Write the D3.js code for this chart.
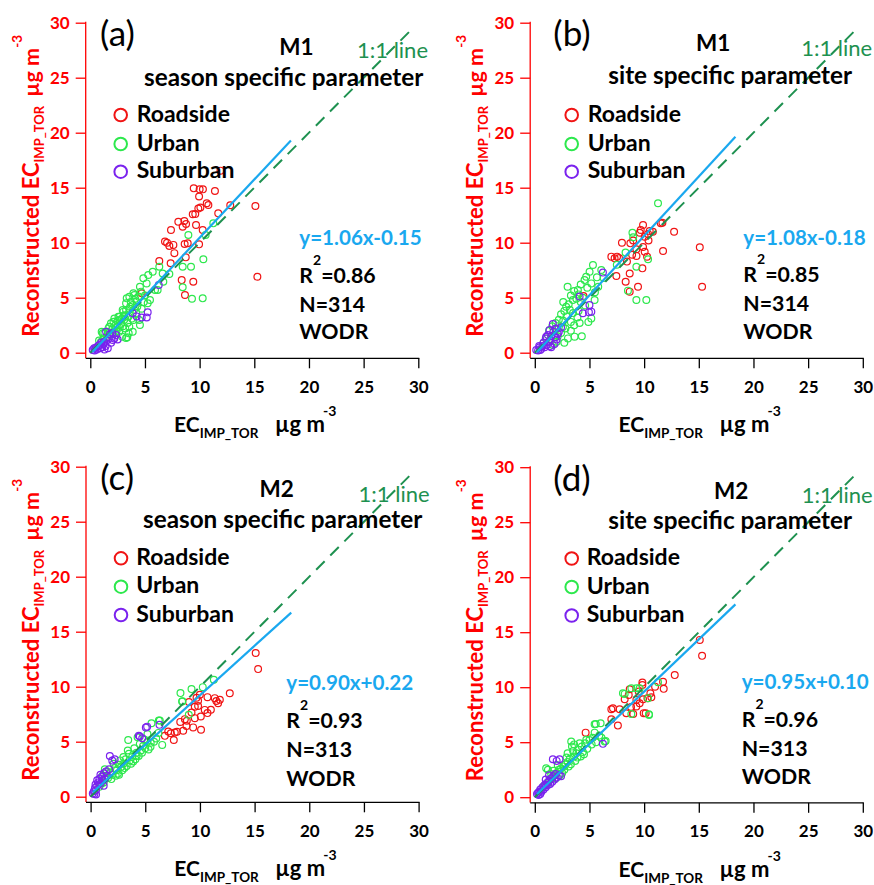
<!DOCTYPE html>
<html><head><meta charset="utf-8">
<script src="https://cdn.jsdelivr.net/npm/d3@7"></script>
<style>
body{margin:0;background:#fff}
svg{display:block}
text{font-family:Lato,"Open Sans",sans-serif}
</style>
</head><body>
<svg id="chart" width="874" height="885"></svg>
<script>
// ---------------- data ----------------
const siteNames = ["Roadside", "Urban", "Suburban"];
const panelTags = ["(a)", "(b)", "(c)", "(d)"];
const methodNames = ["M1", "M1", "M2", "M2"];
const paramNames = ["season specific parameter", "site specific parameter", "season specific parameter", "site specific parameter"];
const fitSlopes = [1.06, 1.08, 0.90, 0.95];
const fitIntercepts = [-0.15, -0.18, 0.22, 0.10];
const fitLabels = ["y=1.06x-0.15", "y=1.08x-0.18", "y=0.90x+0.22", "y=0.95x+0.10"];
const r2Labels = ["=0.86", "=0.85", "=0.93", "=0.96"];
const nLabels = ["N=314", "N=314", "N=313", "N=313"];
const fitNames = ["WODR", "WODR", "WODR", "WODR"];
const axisTicks = [0, 5, 10, 15, 20, 25, 30];
const axisDomain = [0, 30];
const fitXRange = [0.2, 18.35];
const oneToOneRange = [0, 29.3];

const roadsideA = [[9.46,14.94],[10.0,14.85],[10.3,14.85],[11.4,14.7],[9.95,14.2],[10.65,13.58],[10.07,13.2],[9.88,13.1],[10.8,13.43],[12.8,13.4],[15.1,13.34],[9.37,12.58],[9.6,12.6],[11.7,12.67],[8.05,11.9],[8.6,11.97],[8.76,11.7],[9.67,11.61],[8.45,11.45],[7.38,11.15],[10.28,11.15],[7.02,10.0],[6.83,10.1],[7.6,9.8],[7.23,9.7],[7.69,9.05],[8.63,9.88],[8.91,9.94],[9.95,9.85],[8.73,8.67],[6.31,8.34],[7.35,8.13],[8.36,6.6],[9.42,6.45],[8.66,5.25],[4.7,5.4],[15.28,6.9],[11.9,16.55]];
const urbanA = [[11.25,11.76],[10.55,10.7],[8.97,10.7],[10.34,8.49],[9.21,7.82],[8.45,7.82],[8.45,5.95],[9.3,4.91],[10.28,4.94],[6.31,7.82],[5.71,7.36],[5.3,7.06],[4.85,6.76],[5.15,6.3],[6.62,7.2],[7.23,7.15],[6.68,6.45],[4.54,6.0],[5.92,5.7],[6.16,5.7],[5.46,4.79],[3.94,5.4],[3.57,5.09],[3.33,4.94],[4.03,5.24],[4.64,5.55],[4.24,4.64],[3.88,4.33],[5.25,4.49],[3.64,4.18],[3.27,4.49],[3.03,3.73],[2.96,3.88],[2.57,3.27],[2.66,3.27],[2.12,2.82],[1.89,2.67],[2.5,2.36],[1.66,2.21],[1.74,2.36],[2.27,1.76],[1.28,1.76],[1.13,1.76],[1.04,1.91],[0.98,1.0],[3.94,2.97],[4.54,2.52],[4.48,2.97],[2.92,1.46],[3.38,1.4],[3.27,1.34],[3.51,1.76],[2.65,1.9],[3.88,1.91],[3.57,2.36],[2.65,2.97],[3.27,3.88],[4.1,4.9],[4.4,5.1],[3.7,4.6],[4.0,3.9],[3.5,3.3],[3.1,3.0],[2.8,2.6],[2.3,2.5],[2.0,2.1],[1.5,1.4],[1.8,1.6],[2.4,2.0],[3.0,2.4],[3.4,2.7],[4.2,3.6],[4.7,4.0],[5.0,5.2],[4.9,4.6],[2.2,3.1],[1.6,1.9],[1.2,1.3],[0.8,1.1],[3.1,3.4],[3.8,3.1],[3.6,4.0],[2.9,3.1],[2.5,2.9],[4.3,4.2],[3.2,2.2],[2.7,2.3]];
const suburbanA = [[6.26,6.15],[5.25,3.67],[5.16,3.2],[4.7,3.2],[4.24,3.3],[3.88,3.58],[0.22,0.25],[0.35,0.4],[0.5,0.45],[0.82,0.7],[0.6,0.3],[0.9,0.4],[1.28,1.0],[1.6,0.4],[1.4,0.6],[1.2,0.8],[2.05,1.15],[2.35,1.6],[1.44,1.9],[1.7,1.3],[1.9,0.9],[2.2,1.3],[1.0,0.9],[0.7,0.6],[1.1,0.5],[1.5,1.1],[1.8,1.7],[2.5,1.2],[0.4,0.2],[1.3,0.3],[2.0,1.8]];

const roadsideB = [[9.9,11.6],[9.69,11.15],[11.67,11.82],[11.52,11.76],[12.74,11.0],[10.51,11.06],[10.36,10.8],[10.05,10.55],[9.6,10.9],[10.8,11.0],[7.97,10.0],[8.74,9.94],[9.9,9.6],[10.05,9.18],[11.73,9.25],[15.09,9.58],[7.0,8.73],[7.3,8.58],[7.52,8.73],[8.43,8.28],[10.27,8.73],[9.84,7.67],[8.68,7.2],[7.46,6.97],[8.31,6.45],[9.44,6.0],[8.68,5.55],[15.3,6.0],[9.29,9.4],[4.45,5.15],[8.9,8.9],[10.4,10.2],[9.3,8.8],[7.7,8.6],[9.0,10.2]];
const urbanB = [[11.27,13.58],[8.93,10.9],[10.36,8.49],[9.29,7.82],[8.52,5.64],[9.29,4.79],[10.2,4.79],[8.3,9.1],[9.0,10.5],[7.5,8.0],[5.32,7.97],[6.08,7.52],[5.68,6.85],[5.01,7.36],[5.17,6.3],[4.55,6.6],[3.94,5.7],[3.48,4.79],[2.87,4.18],[5.47,4.79],[5.17,3.12],[3.64,1.46],[3.03,1.3],[1.65,0.7],[2.57,2.34],[4.2,6.2],[4.8,5.9],[4.0,5.3],[3.6,5.6],[3.3,5.2],[3.8,4.9],[4.4,5.0],[3.1,4.4],[2.7,3.8],[3.2,3.9],[2.4,3.5],[2.9,3.3],[2.2,3.0],[1.9,2.7],[2.6,2.9],[1.6,2.4],[1.3,2.0],[2.0,2.2],[3.5,3.6],[4.0,3.8],[4.6,4.3],[4.2,4.6],[3.9,3.2],[3.3,2.8],[2.8,2.2],[3.6,2.5],[4.1,2.7],[2.4,1.8],[3.3,2.0],[4.3,1.5],[2.1,1.5],[1.8,1.6],[1.1,1.3],[0.8,0.9],[1.4,1.2],[5.8,6.0],[6.3,6.8],[5.5,5.5],[3.0,6.0],[2.6,4.6],[4.7,6.9],[2.0,1.0],[2.7,0.9],[4.9,2.8]];
const suburbanB = [[6.23,7.28],[4.1,5.1],[5.0,4.34],[5.17,3.73],[4.4,3.58],[4.95,3.67],[0.13,0.25],[0.3,0.2],[0.45,0.5],[0.6,0.35],[0.8,0.9],[1.04,1.45],[1.35,2.06],[1.65,2.6],[1.0,1.3],[1.3,1.0],[1.5,1.5],[1.4,0.6],[1.7,1.9],[0.7,0.6],[1.1,0.7],[1.9,1.4],[2.2,1.9],[0.5,0.25],[1.9,2.2],[2.0,1.2],[1.2,1.6],[0.9,0.5],[1.5,0.5],[2.4,2.3],[0.4,0.6],[1.8,0.8],[2.1,1.7]];

const roadsideC = [[15.1,13.06],[15.32,11.6],[12.73,9.41],[11.82,8.81],[11.66,8.5],[11.36,8.96],[10.69,9.05],[9.99,9.26],[9.83,8.72],[9.83,8.25],[10.44,7.89],[10.69,7.6],[9.53,8.18],[9.23,7.65],[8.62,7.05],[9.53,7.14],[10.08,7.29],[10.1,6.08],[8.77,6.43],[9.38,6.3],[8.47,5.99],[7.7,5.83],[7.34,5.77],[7.1,5.93],[6.79,5.53],[7.61,5.16],[9.69,9.0],[11.0,7.9],[8.2,6.8],[8.8,6.9],[11.5,8.7],[7.9,5.9],[9.0,8.6]];
const urbanC = [[11.27,10.63],[9.23,9.78],[10.26,9.96],[8.22,9.42],[8.37,8.65],[8.98,7.44],[6.24,6.92],[6.55,4.71],[8.4,8.67],[6.33,6.92],[5.57,6.68],[5.48,4.55],[3.44,5.16],[5.2,5.0],[4.8,4.6],[5.5,4.9],[6.0,5.3],[4.5,4.8],[4.2,4.0],[4.0,4.4],[3.8,3.6],[3.5,3.9],[3.6,3.3],[3.2,3.4],[3.0,3.0],[3.3,2.8],[2.8,2.7],[2.6,2.9],[2.4,2.4],[2.2,2.6],[2.0,2.0],[1.8,2.2],[1.6,1.7],[1.4,1.8],[1.2,1.3],[1.0,1.2],[0.8,0.9],[2.5,2.1],[2.9,2.4],[3.9,3.2],[4.4,3.7],[4.6,4.2],[5.0,4.4],[3.0,3.6],[2.7,3.3],[3.4,4.2],[4.9,5.2],[4.3,5.4],[5.2,5.7],[1.9,1.6],[2.3,1.9],[1.5,2.3],[1.1,1.9],[1.3,2.5],[2.1,3.0],[3.7,3.0],[4.1,3.4],[5.3,4.3],[5.8,5.0],[6.2,5.8],[2.6,2.0],[3.1,2.6],[4.7,4.0],[4.2,3.7]];
const suburbanC = [[5.05,6.29],[5.17,6.37],[4.5,5.47],[4.41,5.53],[4.72,5.32],[6.3,6.53],[1.76,3.7],[1.98,3.28],[2.2,3.4],[1.22,2.13],[0.2,0.3],[0.3,0.5],[0.4,0.8],[0.5,0.6],[0.6,1.0],[0.7,1.3],[0.8,1.6],[0.9,1.2],[1.0,1.8],[1.1,1.5],[0.5,0.2],[0.35,0.25],[1.3,1.6],[1.5,1.9],[0.6,1.5],[0.9,2.0],[1.4,2.3],[1.7,2.5],[0.45,1.1],[1.2,1.0]];

const roadsideD = [[15.09,14.3],[15.3,12.85],[12.8,11.1],[11.73,10.5],[11.79,9.85],[10.66,9.09],[9.84,10.42],[9.84,10.2],[8.68,9.82],[8.59,9.3],[8.22,8.91],[9.29,8.85],[9.59,8.54],[9.29,8.24],[8.37,7.63],[9.0,7.57],[10.14,7.63],[7.76,8.0],[7.15,8.09],[7.0,8.0],[7.0,7.09],[7.6,6.51],[4.65,5.87],[9.96,7.64],[10.57,9.45],[9.9,8.9],[9.5,9.6],[10.3,9.0],[11.0,10.05],[8.8,8.2]];
const urbanD = [[10.36,8.99],[10.45,7.48],[8.83,7.57],[9.29,9.9],[8.22,9.39],[5.47,6.63],[6.02,6.72],[6.48,5.12],[5.47,5.87],[4.71,5.22],[3.33,5.06],[1.04,2.63],[11.27,10.45],[9.59,9.9],[8.83,9.9],[8.06,9.45],[10.44,7.54],[6.39,5.06],[5.58,6.66],[5.0,5.2],[4.6,4.9],[4.3,4.6],[4.0,4.3],[3.8,4.0],[3.5,4.2],[3.6,3.7],[3.2,3.5],[3.0,3.2],[3.3,3.0],[2.8,3.0],[2.6,2.8],[2.4,2.6],[2.2,2.5],[2.0,2.2],[1.8,2.0],[1.6,1.8],[1.4,1.6],[1.2,1.3],[1.0,1.1],[2.7,2.5],[3.1,2.8],[3.9,3.6],[4.4,4.1],[4.8,4.4],[5.2,4.8],[5.6,5.0],[6.1,5.4],[3.4,4.6],[4.1,4.9],[2.9,3.6],[3.7,3.3],[4.2,3.7],[2.5,2.2],[1.5,2.1],[1.2,2.5],[2.1,2.9],[3.0,4.0],[3.6,4.8],[5.3,5.4],[4.5,3.9],[5.9,5.6],[2.3,2.0],[1.9,1.7],[0.8,1.0],[1.7,2.4]];
const suburbanD = [[6.23,4.85],[1.65,3.45],[2.26,3.45],[2.0,3.3],[0.2,0.3],[0.3,0.4],[0.4,0.5],[0.5,0.7],[0.6,0.5],[0.7,0.9],[0.8,0.7],[0.9,1.1],[1.0,0.9],[1.1,1.3],[1.2,1.1],[1.3,1.5],[1.4,1.2],[1.5,1.7],[1.6,1.4],[1.7,1.9],[1.8,1.6],[1.9,2.1],[2.0,1.8],[2.2,2.0],[2.4,1.9],[0.5,0.3],[0.35,0.2],[1.0,1.6],[1.3,2.0]];

const panelData = [
  [roadsideA, urbanA, suburbanA],
  [roadsideB, urbanB, suburbanB],
  [roadsideC, urbanC, suburbanC],
  [roadsideD, urbanD, suburbanD]
];

// ---------------- style / layout ----------------
const RED = "#ff0000", BLUE = "#1aa8ef", DGREEN = "#1e9150";
const siteColors = ["#f01414", "#2de84d", "#7a22ee"];
const layouts = [
  {ox:0,     oy:0,     tag:[100,46],   m:[279.3,55],   p:[144,86],    one:[357,58],    lc:120.7, lt:136.7, ly:[115,144,171.7], eq:[299.3,245], r:283,   n:311.5, w:339.3},
  {ox:444.5, oy:0,     tag:[108.8,46], m:[251.5,51],   p:[163.8,83.5],one:[356.7,56],  lc:127.2, lt:143.2, ly:[115,144,171.7], eq:[298.8,245], r:281.7, n:310.7, w:339},
  {ox:0.3,   oy:444,   tag:[100,46],   m:[259.3,52.7], p:[142.7,84],  one:[358.3,58],  lc:120.7, lt:136,   ly:[114.3,142.7,171], eq:[286,246],  r:284.3, n:312.7, w:341.7},
  {ox:444.5, oy:444.5, tag:[108.8,46], m:[269.5,54],   p:[163.8,84],  one:[357.2,58],  lc:127.2, lt:142.2, ly:[114,142.5,171],   eq:[297.2,244.3], r:282.7, n:311, w:339.3}
];

const svg = d3.select("#chart");
const x = d3.scaleLinear().domain(axisDomain).range([90.3, 418.3]);
const y = d3.scaleLinear().domain(axisDomain).range([352.7, 22.7]);

layouts.forEach((L, i) => {
  const g = svg.append("g").attr("transform", `translate(${L.ox},${L.oy})`);

  g.append("line").attr("x1", 85.7).attr("x2", 85.7).attr("y1", y(30) - 1).attr("y2", 358)
    .attr("stroke", RED).attr("stroke-width", 1.3);
  g.append("line").attr("x1", 85.7).attr("x2", x(30) + 1).attr("y1", 358.3).attr("y2", 358.3)
    .attr("stroke", "#000").attr("stroke-width", 1.3);

  const ya = g.append("g").attr("transform", "translate(85.7,0)")
    .call(d3.axisLeft(y).tickValues(axisTicks).tickSize(10).tickPadding(6).tickFormat(d3.format("d")));
  ya.select(".domain").remove();
  ya.selectAll("line").attr("stroke", RED).attr("stroke-width", 1.3);
  ya.selectAll("text").attr("fill", RED).attr("font-size", 17).attr("font-weight", "bold")
    .attr("font-family", "Lato, sans-serif");

  const xa = g.append("g").attr("transform", "translate(0,358.3)")
    .call(d3.axisBottom(x).tickValues(axisTicks).tickSize(10).tickFormat(d3.format("d")));
  xa.select(".domain").remove();
  xa.selectAll("line").attr("stroke", "#000").attr("stroke-width", 1.3);
  xa.selectAll("text").attr("fill", "#000").attr("font-size", 17).attr("font-weight", "bold")
    .attr("font-family", "Lato, sans-serif").attr("y", 34.4).attr("dy", null);

  [0, 1, 2].forEach(s => {
    g.append("g").selectAll("circle").data(panelData[i][s]).join("circle")
      .attr("cx", d => x(d[0])).attr("cy", d => y(d[1])).attr("r", 3.4)
      .attr("fill", "none").attr("stroke", siteColors[s]).attr("stroke-width", 1.2);
  });

  g.append("line").attr("x1", x(oneToOneRange[0])).attr("y1", y(oneToOneRange[0]))
    .attr("x2", x(oneToOneRange[1])).attr("y2", y(oneToOneRange[1]))
    .attr("stroke", DGREEN).attr("stroke-width", 2).attr("stroke-dasharray", "12,8");
  g.append("line").attr("x1", x(fitXRange[0])).attr("y1", y(fitSlopes[i] * fitXRange[0] + fitIntercepts[i]))
    .attr("x2", x(fitXRange[1])).attr("y2", y(fitSlopes[i] * fitXRange[1] + fitIntercepts[i]))
    .attr("stroke", BLUE).attr("stroke-width", 2.2);

  g.append("text").attr("x", L.tag[0]).attr("y", L.tag[1]).attr("font-size", 35).text(panelTags[i]);
  g.append("text").attr("x", L.m[0]).attr("y", L.m[1]).attr("font-size", 22.5).attr("font-weight", "bold").text(methodNames[i]);
  g.append("text").attr("x", L.p[0]).attr("y", L.p[1]).attr("font-size", 24.3).attr("font-weight", "bold").text(paramNames[i]);
  g.append("text").attr("x", L.one[0]).attr("y", L.one[1]).attr("font-size", 22).attr("fill", DGREEN).text("1:1 line");

  siteNames.forEach((s, k) => {
    g.append("circle").attr("cx", L.lc).attr("cy", L.ly[k]).attr("r", 6.3)
      .attr("fill", "none").attr("stroke", siteColors[k]).attr("stroke-width", 2);
    g.append("text").attr("x", L.lt).attr("y", L.ly[k] + 6.5).attr("font-size", 23).attr("font-weight", "bold").text(s);
  });

  g.append("text").attr("x", L.eq[0]).attr("y", L.eq[1]).attr("font-size", 20.6).attr("font-weight", "bold")
    .attr("fill", BLUE).text(fitLabels[i]);
  const rt = g.append("text").attr("x", L.eq[0]).attr("y", L.r).attr("font-size", 21.3).attr("font-weight", "bold");
  rt.append("tspan").text("R");
  rt.append("tspan").attr("font-size", 14).attr("dy", -18).text("2");
  rt.append("tspan").attr("dy", 18).text(r2Labels[i]);
  g.append("text").attr("x", L.eq[0]).attr("y", L.n).attr("font-size", 21.3).attr("font-weight", "bold").text(nLabels[i]);
  g.append("text").attr("x", L.eq[0]).attr("y", L.w).attr("font-size", 21.3).attr("font-weight", "bold").text(fitNames[i]);

  // x title
  const xt = g.append("text").attr("y", 432).attr("font-weight", "bold");
  xt.append("tspan").attr("x", 174).attr("font-size", 21).text("EC");
  xt.append("tspan").attr("font-size", 13.5).attr("dy", 6).text("IMP_TOR");
  xt.append("tspan").attr("x", 275).attr("font-size", 22).attr("dy", -6).text("\u00b5g m");
  xt.append("tspan").attr("x", 323).attr("font-size", 14).attr("dy", -16).text("-3");

  // y title (rotated)
  const yt = g.append("text").attr("transform", "translate(38.5,336.7) rotate(-90)")
    .attr("font-weight", "bold").attr("fill", RED);
  yt.append("tspan").attr("x", 0).attr("font-size", 22).text("Reconstructed EC");
  yt.append("tspan").attr("font-size", 13).attr("dy", 5).text("IMP_TOR");
  yt.append("tspan").attr("x", 240).attr("font-size", 21.5).attr("dy", -5).text("\u00b5g m");
  yt.append("tspan").attr("x", 289).attr("font-size", 13.5).attr("dy", -17).text("-3");
});
</script>
</body></html>
